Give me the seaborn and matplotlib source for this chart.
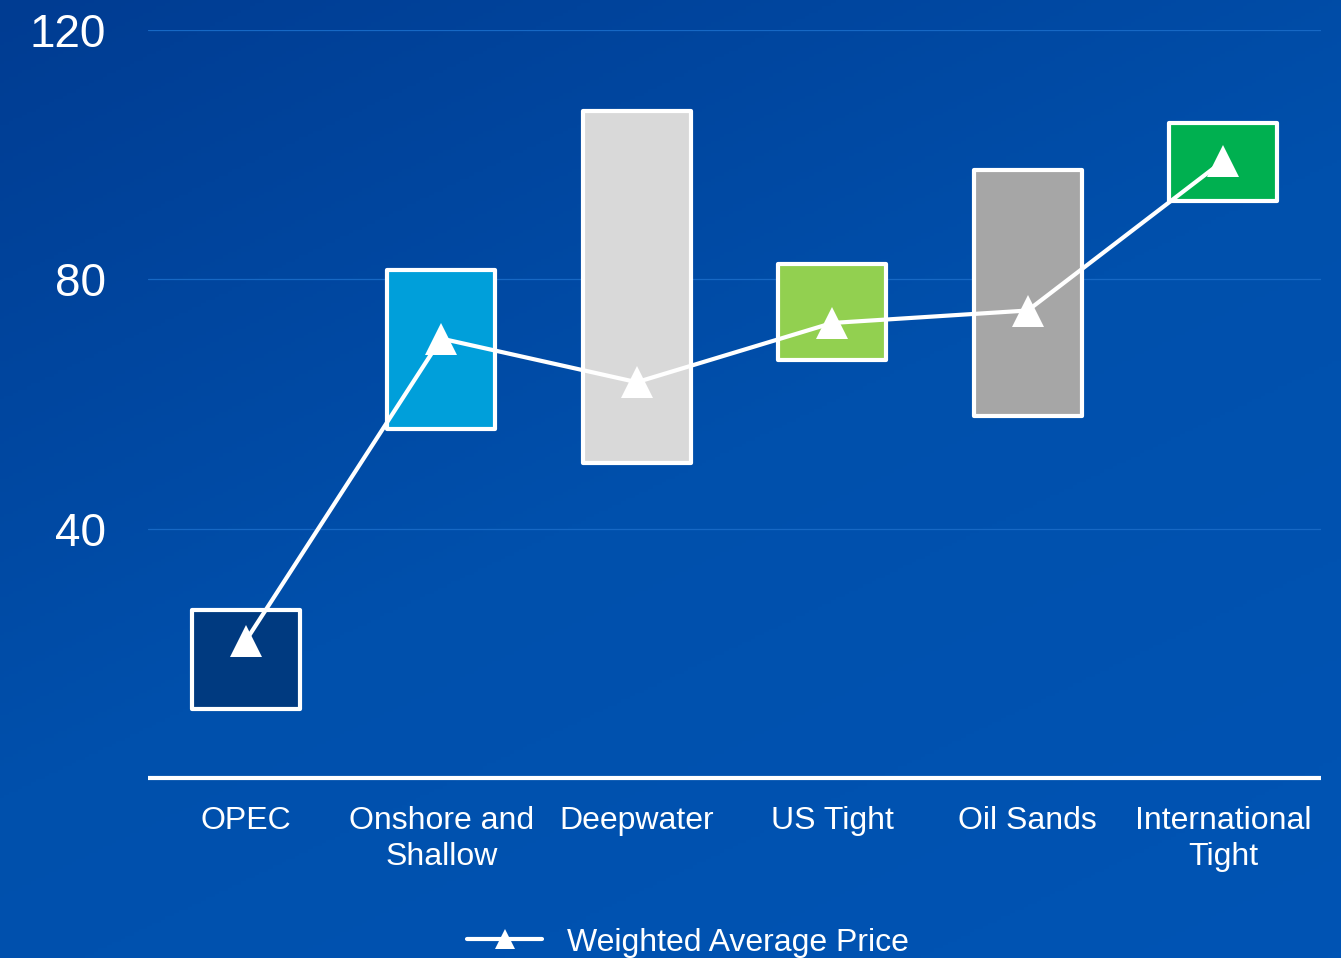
import matplotlib
matplotlib.use("Agg")
import matplotlib.pyplot as plt
from matplotlib.colors import LinearSegmentedColormap
import numpy as np
import pandas as pd
import seaborn as sns

# data
categories = ["OPEC", "Onshore and\nShallow", "Deepwater", "US Tight", "Oil Sands", "International\nTight"]
low_price = [11, 56, 50.5, 67, 58, 92.5]
high_price = [27, 81.5, 107, 82.5, 97.5, 105]
weighted_avg = [22, 70.5, 63.5, 73, 75, 99]
bar_colors = ["#003A80", "#009FDA", "#D9D9D9", "#92D050", "#A6A6A6", "#00B050"]
y_ticks = [40, 80, 120]

sns.set_theme(style="white")
plt.rcParams["font.family"] = ["Liberation Sans", "DejaVu Sans"]

df = pd.DataFrame({
    "category": categories,
    "low": low_price,
    "span": np.array(high_price) - np.array(low_price),
    "pos": np.arange(len(categories)),
    "avg": weighted_avg,
})

fig = plt.figure(figsize=(13.41, 9.58), dpi=100)

# gradient background
bg = fig.add_axes([0, 0, 1, 1], zorder=0)
cmap = LinearSegmentedColormap.from_list("bg", ["#003C92", "#0050AC", "#0054B4"])
gx, gy = np.meshgrid(np.linspace(0, 1, 300), np.linspace(0, 1, 300))
bg.imshow(0.4 * gx + 0.6 * gy, cmap=cmap, aspect="auto", extent=[0, 1, 0, 1], origin="upper")
bg.axis("off")

ax = fig.add_axes([148 / 1341, 180 / 958, 1173 / 1341, 748 / 958], zorder=1)
ax.set_facecolor("none")

sns.barplot(data=df, x="category", y="span", bottom=df["low"].to_numpy(),
            color="#cccccc", width=0.55, edgecolor="white", linewidth=3,
            ax=ax, zorder=2)
for patch, c in zip(ax.patches, bar_colors):
    patch.set_facecolor(c)
    patch.set_joinstyle("round")

sns.lineplot(data=df, x="pos", y="avg", color="white", linewidth=3,
             marker="^", markersize=23, markeredgewidth=0,
             label="Weighted Average Price", legend=False, ax=ax, zorder=3)

ax.set_xlim(-0.5, len(categories) - 0.5)
ax.set_ylim(0, 120)
ax.set_yticks(y_ticks)
ax.set_xticks(range(len(categories)))
ax.set_xticklabels(categories, linespacing=1.25)
ax.set_xlabel("")
ax.set_ylabel("")
ax.tick_params(axis="y", length=0, pad=30, labelsize=33, labelcolor="white")
ax.tick_params(axis="x", length=0, pad=20, labelsize=23, labelcolor="white")
ax.yaxis.grid(True, color="#1768C4", linewidth=0.9)
ax.set_axisbelow(True)

for side in ["top", "left", "right"]:
    ax.spines[side].set_visible(False)
ax.spines["bottom"].set_color("white")
ax.spines["bottom"].set_linewidth(3)
ax.spines["bottom"].set_capstyle("butt")
ax.spines["bottom"].set_zorder(4)

handles, labels = ax.get_legend_handles_labels()
leg = fig.legend(handles, labels, loc="center", bbox_to_anchor=(0.513, 0.016),
                 frameon=False, fontsize=23, handlelength=2.35, handletextpad=0.78,
                 markerscale=0.65)
for t in leg.get_texts():
    t.set_color("white")

fig.savefig("out.png", dpi=100)
